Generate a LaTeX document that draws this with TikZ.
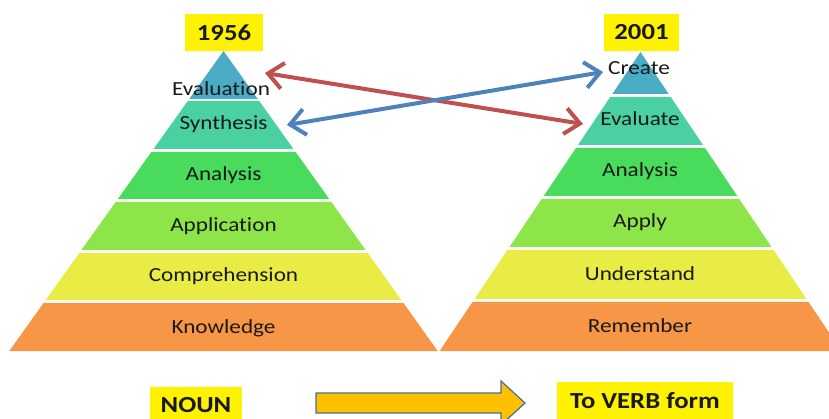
\documentclass[tikz,border=0pt]{standalone}
\usepackage{fontspec}
\setmainfont{Carlito}[FakeStretch=1.16,Ligatures=NoCommon]
\usetikzlibrary{arrows.meta}

\definecolor{lvltop}{RGB}{75,172,198}
\definecolor{lvltwo}{RGB}{75,208,162}
\definecolor{lvlthree}{RGB}{72,219,92}
\definecolor{lvlfour}{RGB}{142,229,74}
\definecolor{lvlfive}{RGB}{234,236,70}
\definecolor{lvlbase}{RGB}{247,150,70}
\definecolor{linkred}{RGB}{192,80,77}
\definecolor{linkblue}{RGB}{79,129,189}
\definecolor{blockfill}{RGB}{255,192,0}
\definecolor{blockline}{RGB}{65,113,156}

% one band of a pyramid: apex x, apex y, slope, top, bottom, colour
\newcommand{\pyrband}[6]{%
  \fill[#6] ({#1-#3*(#4-#2)},#4) -- ({#1+#3*(#4-#2)},#4) -- ({#1+#3*(#5-#2)},#5) -- ({#1-#3*(#5-#2)},#5) -- cycle;}

\begin{document}
\begin{tikzpicture}
            [x=1pt,y=-1pt,every node/.style={text=black!90},
             lbl/.style={anchor=base,font=\fontsize{20}{24}\selectfont},
             tagbox/.style={fill=yellow,inner sep=0pt,minimum height=37pt,font=\bfseries\fontsize{23}{27}\selectfont},
             link/.style={line width=4pt,line cap=round,line join=round,{Straight Barb[length=15pt,width=26pt]}-{Straight Barb[length=15pt,width=26pt]}}]
            \clip (0,0) rectangle (829,419);

            % 1956 pyramid
            \pyrband{223.5}{51}{0.714}{51}{99}{lvltop}
            \pyrband{223.5}{51}{0.714}{101}{149}{lvltwo}
            \pyrband{223.5}{51}{0.714}{152}{199}{lvlthree}
            \pyrband{223.5}{51}{0.714}{202}{250}{lvlfour}
            \pyrband{223.5}{51}{0.714}{253}{300}{lvlfive}
            \pyrband{223.5}{51}{0.714}{303}{351}{lvlbase}

            % 2001 pyramid
            \pyrband{640.5}{52}{0.672}{52}{94}{lvltop}
            \pyrband{640.5}{52}{0.672}{97}{145}{lvltwo}
            \pyrband{640.5}{52}{0.672}{148}{196}{lvlthree}
            \pyrband{640.5}{52}{0.672}{199}{247}{lvlfour}
            \pyrband{640.5}{52}{0.672}{250}{299}{lvlfive}
            \pyrband{640.5}{52}{0.672}{302}{351}{lvlbase}

            \node[tagbox,minimum width=78pt] (y1956) at (224,32.5) {1956};
            \node[tagbox,minimum width=75pt] (y2001) at (641.5,32.5) {2001};

            \node[lbl] (evaluation) at (221,96) {Evaluation};
            \node[lbl] (synthesis) at (223.5,130) {Synthesis};
            \node[lbl] (analysisL) at (223.5,181) {Analysis};
            \node[lbl] (application) at (223.5,232) {Application};
            \node[lbl] (comprehension) at (223.5,282) {Comprehension};
            \node[lbl] (knowledge) at (223.5,333) {Knowledge};

            \node[lbl] (create) at (639,75) {Create};
            \node[lbl] (evaluate) at (640,126) {Evaluate};
            \node[lbl] (analysisR) at (640,177) {Analysis};
            \node[lbl] (apply) at (640,228) {Apply};
            \node[lbl] (understand) at (640,280) {Understand};
            \node[lbl] (remember) at (640,332) {Remember};

            \coordinate (evalend) at (265,73);
            \coordinate (evaluateend) at (583,124);
            \coordinate (synthend) at (287,125);
            \coordinate (createend) at (603,72);
            \draw[link,linkred] (evalend) -- (evaluateend);
            \draw[link,linkblue] (synthend) -- (createend);

            \node[tagbox,minimum width=92pt] (noun) at (196,405.5) {NOUN};
            \node[tagbox,minimum width=176pt] (verb) at (645,400.5) {To VERB form};
            \fill[blockfill,draw=blockline,line width=1.2pt] (316,393) -- (501,393) -- (501,381) -- (525,403) -- (501,425) -- (501,413) -- (316,413) -- cycle;

        \end{tikzpicture}
\end{document}
